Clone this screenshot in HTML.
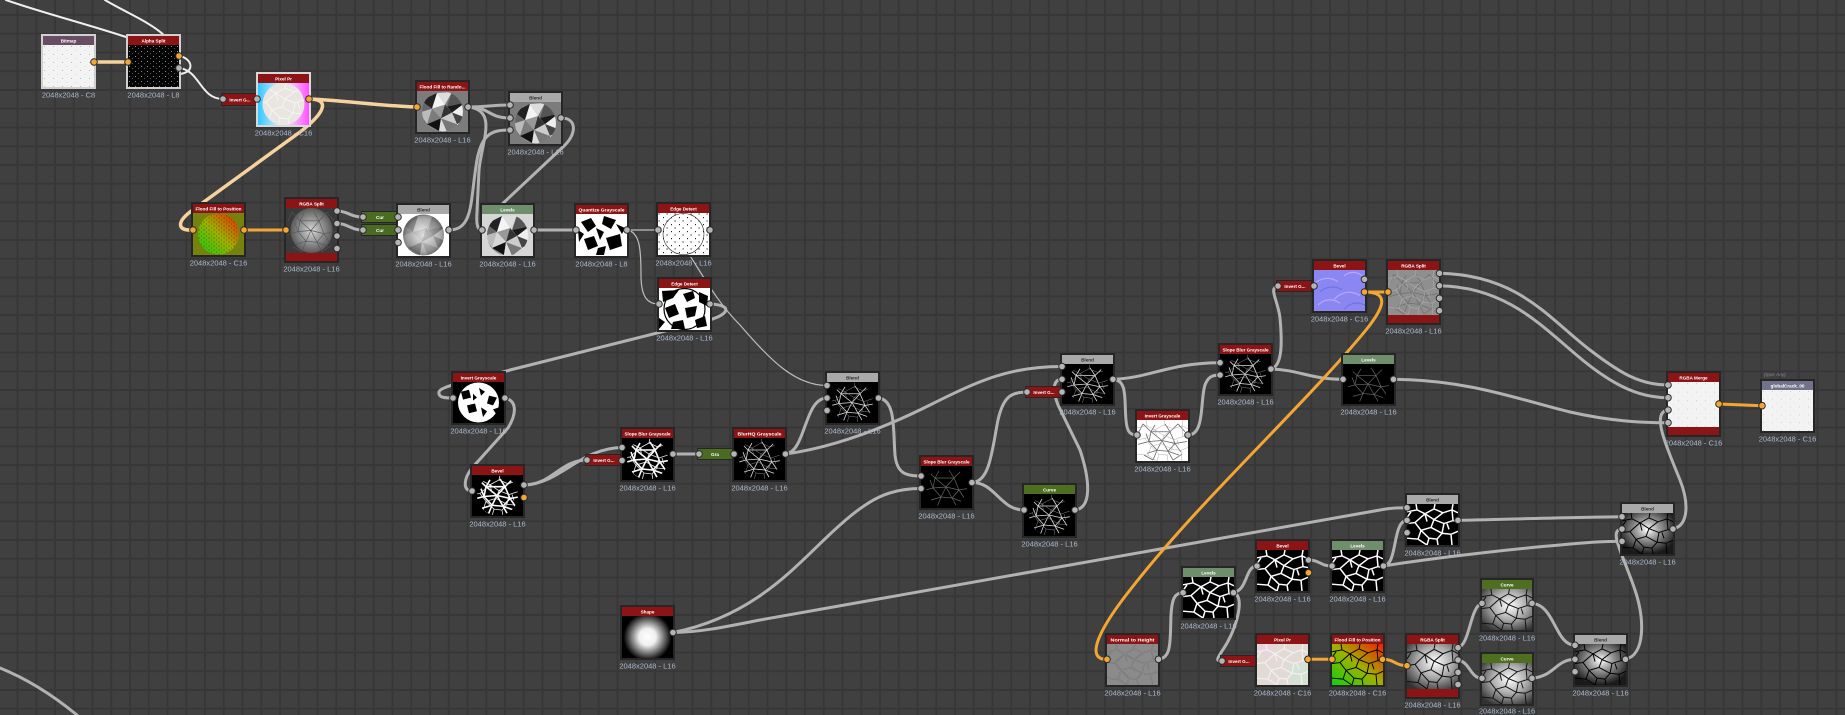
<!DOCTYPE html>
<html><head><meta charset="utf-8"><style>
html,body{margin:0;padding:0;background:#404040;}
body{width:1845px;height:715px;overflow:hidden;}
svg{display:block;}
.lbl{font-family:"Liberation Sans",sans-serif;font-size:7.5px;fill:#aab9cd;text-anchor:middle;}
.ht{font-family:"Liberation Sans",sans-serif;font-size:4.6px;font-weight:bold;fill:#fff;text-anchor:middle;}
.hd{fill:#2a2a2a;}
.w{fill:none;stroke:#b2b2b2;stroke-width:3;stroke-linecap:round;}
.o{fill:none;stroke:#f2a634;stroke-width:3;stroke-linecap:round;}
.p{fill:none;stroke:#f6d29e;stroke-width:3.5;stroke-linecap:round;}
.t{fill:none;stroke:#efefef;stroke-width:2;stroke-linecap:round;}
.tn{fill:none;stroke:#bdbdbd;stroke-width:1.2;}
.pg{fill:#b4b4b4;stroke:#2a2a2a;stroke-width:1;}
.po{fill:#f2a634;stroke:#2a2a2a;stroke-width:1;}
</style></head><body>
<svg width="1845" height="715" viewBox="0 0 1845 715" xmlns="http://www.w3.org/2000/svg">
<defs>
<pattern id="gridp" x="16.5" y="14" width="18.75" height="18.75" patternUnits="userSpaceOnUse"><rect width="18.75" height="18.75" fill="#404040"/><rect width="2" height="18.75" fill="#373737"/><rect width="18.75" height="2" fill="#373737"/></pattern>
<pattern id="speck" width="9" height="8" patternUnits="userSpaceOnUse"><rect x="1" y="1" width="0.9" height="0.9" fill="#aaa"/><rect x="5.5" y="5" width="0.7" height="0.7" fill="#bbb"/></pattern>
<pattern id="wspeck" width="6" height="5" patternUnits="userSpaceOnUse"><rect x="1" y="1" width="0.8" height="0.8" fill="#ddd"/><rect x="4" y="3" width="0.7" height="0.7" fill="#aaa"/></pattern>
<pattern id="bspeck" width="5" height="4" patternUnits="userSpaceOnUse"><rect x="0.5" y="0.5" width="1.2" height="1" fill="#111"/><rect x="3" y="2.5" width="1" height="1" fill="#222"/></pattern>
<pattern id="bspeck2" width="8" height="7" patternUnits="userSpaceOnUse"><rect x="0.5" y="0.5" width="1.2" height="1" fill="#111"/><rect x="5" y="4" width="1" height="1.2" fill="#222"/></pattern>
<clipPath id="cc"><circle cx="25.5" cy="21" r="20.5"/></clipPath>
<linearGradient id="gpx" x1="0" y1="0" x2="1" y2="0"><stop offset="0" stop-color="#30c8ff"/><stop offset=".5" stop-color="#f4f4ff"/><stop offset="1" stop-color="#ff50ff"/></linearGradient>
<linearGradient id="gff" x1="0" y1="1" x2="1" y2="0"><stop offset="0" stop-color="#10d010"/><stop offset=".5" stop-color="#a0b000"/><stop offset="1" stop-color="#f02000"/></linearGradient>
<radialGradient id="grgb"><stop offset="0" stop-color="#d8d8d8"/><stop offset="1" stop-color="#5a5a5a"/></radialGradient>
<radialGradient id="gblend"><stop offset="0" stop-color="#f8f8f8"/><stop offset=".8" stop-color="#9a9a9a"/><stop offset="1" stop-color="#6a6a6a"/></radialGradient>
<radialGradient id="gshape"><stop offset="0" stop-color="#fff"/><stop offset=".35" stop-color="#f0f0f0"/><stop offset="1" stop-color="#000"/></radialGradient>
<radialGradient id="ggc" cx=".55" cy=".4" r=".7"><stop offset="0" stop-color="#fff"/><stop offset=".5" stop-color="#aaa"/><stop offset="1" stop-color="#333"/></radialGradient>
<radialGradient id="gbc" cx=".5" cy=".4" r=".6"><stop offset="0" stop-color="#fff"/><stop offset=".4" stop-color="#999"/><stop offset="1" stop-color="#1a1a1a"/></radialGradient>
<path id="cp" d="M0,8 L10,6 L18,10 L27,5 L36,9 L45,6 L51,9 M10,6 L9,0 M27,5 L28,0 M45,6 L46,0 M0,20 L8,19 L18,10 M8,19 L14,27 L24,24 L27,16 L18,10 M27,16 L36,9 M27,16 L37,20 L46,17 L51,18 M46,17 L45,6 M37,20 L35,30 L24,24 M14,27 L11,36 L0,35 M11,36 L20,42 M14,27 L22,35 L30,36 L35,30 M30,36 L31,42 M35,30 L44,31 L51,28 M44,31 L45,42 M22,35 L20,42 M4,8 L0,14 M18,10 L20,18 M40,20 L42,26"/>
<path id="kp" d="M25,21 L14,12 L6,4 M25,21 L33,12 L41,4 M25,21 L38,24 L50,22 M25,21 L20,31 L16,41 M25,21 L31,32 L36,41 M25,21 L12,22 L1,25 M14,12 L18,5 M33,12 L28,4 M38,24 L44,33 M20,31 L10,34 M31,32 L42,36 M12,22 L9,14 M6,4 L2,12 M14,12 L12,22 L20,31 L31,32 L38,24 L33,12 Z M41,4 L48,12 M16,41 L7,36 M36,41 L45,35"/>
<g id="facets">
<path d="M4,10 L20,2 L15,18 Z" fill="#222"/><path d="M20,2 L35,1 L28,14 Z" fill="#ddd"/><path d="M35,1 L48,12 L30,16 Z" fill="#555"/><path d="M48,12 L50,28 L35,22 Z" fill="#eee"/><path d="M15,18 L28,14 L24,28 Z" fill="#999"/><path d="M28,14 L35,22 L24,28 Z" fill="#333"/><path d="M2,22 L15,18 L10,34 Z" fill="#bbb"/><path d="M10,34 L24,28 L22,41 Z" fill="#111"/><path d="M24,28 L40,34 L30,42 Z" fill="#777"/><path d="M35,22 L50,28 L40,34 Z" fill="#444"/><path d="M4,10 L15,18 L2,22 Z" fill="#666"/><path d="M24,28 L35,22 L40,34 Z" fill="#ccc"/><path d="M40,34 L50,28 L44,42 Z" fill="#fff"/><path d="M10,34 L22,41 L6,40 Z" fill="#888"/><path d="M15,18 L20,2 L28,14 Z" fill="#f4f4f4"/><path d="M30,16 L48,12 L35,22 Z" fill="#1a1a1a"/><path d="M28,14 L30,16 L35,22 Z" fill="#aaa"/><path d="M2,22 L10,34 L6,40 Z" fill="#444"/><path d="M22,41 L24,28 L30,42 Z" fill="#ddd"/>
</g>
<symbol id="s-bitmap" viewBox="0 0 51 42" preserveAspectRatio="none"><rect width="51" height="42" fill="#f3f3f3"/><rect width="51" height="42" fill="url(#speck)"/></symbol>
<symbol id="s-alpha" viewBox="0 0 51 42" preserveAspectRatio="none"><rect width="51" height="42" fill="#050505"/><rect width="51" height="42" fill="url(#wspeck)"/></symbol>
<symbol id="s-pixel" viewBox="0 0 51 42" preserveAspectRatio="none"><rect width="51" height="42" fill="url(#gpx)"/><circle cx="25.5" cy="21" r="21" fill="#e9e6e2"/><use href="#cp" fill="none" stroke="#fafafa" stroke-width=".7" clip-path="url(#cc)"/></symbol>
<symbol id="s-facet" viewBox="0 0 51 42" preserveAspectRatio="none"><rect width="51" height="42" fill="#7c7c7c"/><g clip-path="url(#cc)"><use href="#facets"/></g></symbol>
<symbol id="s-facetl" viewBox="0 0 51 42" preserveAspectRatio="none"><rect width="51" height="42" fill="#d6d6d6"/><g clip-path="url(#cc)"><use href="#facets"/></g></symbol>
<symbol id="s-ffpos" viewBox="0 0 51 42" preserveAspectRatio="none"><rect width="51" height="42" fill="#77820e"/><circle cx="25.5" cy="21" r="20.5" fill="url(#gff)"/><rect width="51" height="42" fill="url(#bspeck)" opacity=".5" clip-path="url(#cc)"/></symbol>
<symbol id="s-rgb1" viewBox="0 0 51 42" preserveAspectRatio="none"><rect width="51" height="42" fill="#3a3a3a"/><circle cx="25.5" cy="21" r="21" fill="url(#grgb)"/><use href="#kp" fill="none" stroke="#555" stroke-width=".6"/></symbol>
<symbol id="s-blendmid" viewBox="0 0 51 42" preserveAspectRatio="none"><rect width="51" height="42" fill="#fff"/><circle cx="25.5" cy="21" r="20.5" fill="url(#gblend)"/><g clip-path="url(#cc)" opacity=".25"><use href="#facets"/></g></symbol>
<symbol id="s-quant" viewBox="0 0 51 42" preserveAspectRatio="none"><rect width="51" height="42" fill="#fff"/><g fill="#000"><path d="M5,8 L15,4 L20,12 L12,18 Z"/><path d="M28,2 L40,6 L35,15 L26,10 Z"/><path d="M8,25 L18,22 L22,32 L12,36 Z"/><path d="M30,24 L44,20 L46,32 L34,36 Z"/><path d="M20,14 L28,18 L24,26 Z"/><path d="M40,10 L49,14 L46,20 Z"/><path d="M2,16 L8,20 L3,28 Z"/><path d="M22,34 L30,32 L28,41 L20,41 Z"/></g></symbol>
<symbol id="s-edge1" viewBox="0 0 51 42" preserveAspectRatio="none"><rect width="51" height="42" fill="#fff"/><rect width="51" height="42" fill="url(#bspeck2)"/><circle cx="25.5" cy="21" r="20.5" fill="none" stroke="#222" stroke-width=".6"/></symbol>
<symbol id="s-edge2" viewBox="0 0 51 42" preserveAspectRatio="none"><rect width="51" height="42" fill="#fff"/><g fill="#000"><path d="M3,3 L20,2 L14,10 L4,14 Z"/><path d="M24,6 L34,3 L36,10 L28,14 Z"/><path d="M40,4 L49,8 L48,18 L40,14 Z"/><path d="M6,20 L16,16 L20,26 L10,30 Z"/><path d="M26,20 L38,18 L36,28 L28,30 Z"/><path d="M14,34 L24,32 L26,41 L12,41 Z"/><path d="M36,32 L46,28 L48,38 L38,40 Z"/><path d="M0,30 L6,34 L0,41 Z"/></g><circle cx="25.5" cy="21" r="20.5" fill="none" stroke="#000" stroke-width="1.2"/></symbol>
<symbol id="s-invgray" viewBox="0 0 51 42" preserveAspectRatio="none"><rect width="51" height="42" fill="#000"/><circle cx="25.5" cy="21" r="20.5" fill="#fff"/><g fill="#000"><path d="M8,10 L16,8 L18,16 L10,18 Z"/><path d="M26,6 L32,10 L28,14 Z"/><path d="M36,14 L44,16 L40,24 L34,22 Z"/><path d="M14,24 L22,22 L24,30 L16,32 Z"/><path d="M28,26 L34,30 L30,36 Z"/><path d="M20,12 L24,16 L20,19 Z"/><path d="M40,28 L46,26 L44,34 Z"/></g></symbol>
<symbol id="s-crack" viewBox="0 0 51 42" preserveAspectRatio="none"><rect width="51" height="42" fill="#000"/><g clip-path="url(#cc)"><use href="#kp" fill="none" stroke="#fff" stroke-width="1.6"/><use href="#cp" fill="none" stroke="#eee" stroke-width=".8"/></g></symbol>
<symbol id="s-crackthin" viewBox="0 0 51 42" preserveAspectRatio="none"><rect width="51" height="42" fill="#000"/><g clip-path="url(#cc)"><use href="#kp" fill="none" stroke="#ddd" stroke-width=".8"/><use href="#cp" fill="none" stroke="#888" stroke-width=".5"/></g></symbol>
<symbol id="s-faint" viewBox="0 0 51 42" preserveAspectRatio="none"><rect width="51" height="42" fill="#000"/><use href="#kp" fill="none" stroke="#666" stroke-width=".7" clip-path="url(#cc)"/></symbol>
<symbol id="s-shape" viewBox="0 0 51 42" preserveAspectRatio="none"><rect width="51" height="42" fill="#000"/><circle cx="25.5" cy="21" r="24" fill="url(#gshape)"/></symbol>
<symbol id="s-invcrack" viewBox="0 0 51 42" preserveAspectRatio="none"><rect width="51" height="42" fill="#fff"/><use href="#kp" fill="none" stroke="#666" stroke-width=".8"/><use href="#cp" fill="none" stroke="#aaa" stroke-width=".5"/></symbol>
<symbol id="s-normal" viewBox="0 0 51 42" preserveAspectRatio="none"><rect width="51" height="42" fill="#8a86f2"/><g fill="none" stroke="#b8a6ff" stroke-width="1.2"><path d="M0,14 Q12,4 24,12"/><path d="M20,30 Q32,18 46,26"/><path d="M4,36 Q14,26 26,34"/><path d="M30,6 Q40,-2 51,8"/></g><g fill="none" stroke="#6a70e0" stroke-width="1"><path d="M6,22 Q16,14 28,20"/><path d="M30,40 Q40,30 51,36"/></g></symbol>
<symbol id="s-graytex" viewBox="0 0 51 42" preserveAspectRatio="none"><rect width="51" height="42" fill="#8f8f8f"/><use href="#kp" fill="none" stroke="#727272" stroke-width=".8"/><use href="#cp" fill="none" stroke="#ababab" stroke-width=".6"/></symbol>
<symbol id="s-merge" viewBox="0 0 51 42" preserveAspectRatio="none"><rect width="51" height="42" fill="#f3f3f3"/><rect width="51" height="42" fill="url(#speck)" opacity=".6"/></symbol>
<symbol id="s-cells" viewBox="0 0 51 42" preserveAspectRatio="none"><rect width="51" height="42" fill="#000"/><use href="#cp" fill="none" stroke="#fff" stroke-width="1.5"/></symbol>
<symbol id="s-nth" viewBox="0 0 51 42" preserveAspectRatio="none"><rect width="51" height="42" fill="#8b8b8b"/><use href="#cp" fill="none" stroke="#666" stroke-width="1.2"/><use href="#cp" fill="none" stroke="#b0b0b0" stroke-width=".4"/></symbol>
<symbol id="s-pastel" viewBox="0 0 51 42" preserveAspectRatio="none"><rect width="51" height="42" fill="#e2dad4"/><path d="M0,0 L20,0 L10,18 Z" fill="#e8d4dc"/><path d="M30,22 L51,20 L51,42 L36,42 Z" fill="#d4e2d4"/><use href="#cp" fill="none" stroke="#f4f0f0" stroke-width="1.2"/></symbol>
<symbol id="s-ffcells" viewBox="0 0 51 42" preserveAspectRatio="none"><rect width="51" height="42" fill="url(#gff)"/><use href="#cp" fill="none" stroke="#000" stroke-width="1"/></symbol>
<symbol id="s-graycells" viewBox="0 0 51 42" preserveAspectRatio="none"><rect width="51" height="42" fill="url(#ggc)"/><use href="#cp" fill="none" stroke="#111" stroke-width="1"/></symbol>
<symbol id="s-blendcells" viewBox="0 0 51 42" preserveAspectRatio="none"><rect width="51" height="42" fill="url(#gbc)"/><use href="#cp" fill="none" stroke="#000" stroke-width="1"/></symbol>
</defs>

<rect width="1845" height="715" fill="url(#gridp)"/>

<!-- wires -->
<path class="t" d="M6,0 C40,12 90,25 126,37"/>
<path class="t" d="M105,0 C125,12 150,22 165,36"/>
<path class="t" d="M179,56 C192,58 196,72 180,74"/>
<path class="t" d="M179,68 C200,70 200,99 223,99"/>
<path class="p" d="M94,62 L128,62"/>
<path class="p" d="M309,99 C340,100 380,106 417,107"/>
<path class="p" d="M309,99 C330,99 326,112 300,132 L190,212 C176,223 178,231 193,230"/>
<path class="o" d="M244,230 L286,230"/>
<path class="w" d="M337,211 C348,211 350,217 363,217"/>
<path class="w" d="M337,223.5 C348,223.5 350,230 363,230"/>
<path class="w" d="M468,107 C488,107 490,105 510,105"/>
<path class="w" d="M468,107 C490,107 488,118 510,118"/>
<path class="w" d="M468,107 C498,110 482,140 479,170 L477,212 C476,226 478,230 482,230"/>
<path class="w" d="M449,230 C474,230 470,200 477,160 C482,132 494,130 510,130"/>
<path class="w" d="M561,118 C578,118 576,135 564,146 L498,208 C488,218 484,226 482,230"/>
<path class="w" d="M534,230 L576,230"/>
<path class="tn" d="M627,230 L658,230"/>
<path class="tn" d="M627,230 C640,232 641,250 641,275 C641,298 648,304 659,304"/>
<path class="tn" d="M683,245 C700,270 715,300 740,325 C770,360 795,385.5 827,385.5"/>
<path class="w" d="M710,304 C735,305 728,316 705,321 L510,370 C470,381 440,386 439,392 C438,398 446,398 453,398"/>
<path class="w" d="M505,398 C518,401 516,415 508,428 L472,468 C464,478 462,491 472,491"/>
<path class="w" d="M524,485 C552,485 560,460 587,460"/>
<path class="w" d="M524,485 C560,484 580,448 622,447.5"/>
<path class="w" d="M673,454 L734,454"/>
<path class="w" d="M785.5,454 C806,452 804,398 827,398"/>
<path class="w" d="M785.5,454 C830,448 880,430 930,405 C980,380 1010,366.5 1062,366.5"/>
<path class="w" d="M878.5,398 C896,400 893,430 895,455 C897,473 905,476 921,476"/>
<path class="w" d="M673,632.5 C760,615 800,560 840,525 C870,498 890,488.5 921,488.5"/>
<path class="w" d="M673,632.5 C700,632 720,628 760,620 L1380,510 C1390,508 1398,507.7 1407,507.7"/>
<path class="w" d="M972,482.5 C995,482 1000,510 1024,510"/>
<path class="w" d="M972,482.5 C990,482 992,450 998,420 C1003,398 1010,392 1027,392"/>
<path class="w" d="M1075,510 C1092,508 1090,480 1080,450 L1058,405 C1053,392 1052,379.3 1062,379.3"/>
<path class="w" d="M1113,379.3 C1128,380 1124,400 1126,420 C1127,432 1130,435 1137,435"/>
<path class="w" d="M1113,379.3 C1150,378 1170,362.7 1220,362.7"/>
<path class="w" d="M1188,435 C1205,435 1200,400 1205,385 C1208,377 1212,375 1220,375"/>
<path class="w" d="M1271,369 C1300,370 1310,379.3 1343,379.3"/>
<path class="w" d="M1271,369 C1283,366 1282,340 1280,318 C1278,300 1268,288 1278,286"/>
<path class="w" d="M1393.5,379.3 C1470,380 1520,400 1570,412 C1610,421 1640,422.7 1668,422.7"/>
<path class="w" d="M1439.5,273.3 C1520,275 1550,320 1590,350 C1620,373 1640,385 1668,385"/>
<path class="w" d="M1439.5,285.7 C1510,287 1545,330 1585,362 C1615,386 1640,397.7 1668,397.7"/>
<path class="w" d="M1458,520.3 C1520,519 1580,517 1622,516.7"/>
<path class="w" d="M1383.5,566 C1420,560 1500,550 1560,545 C1590,542 1605,541.3 1622,541.3"/>
<path class="w" d="M1383.5,566 C1398,565 1392,521 1407,520.3"/>
<path class="w" d="M1308.5,560 C1320,560 1320,566 1332,566"/>
<path class="w" d="M1233.5,592.7 C1248,590 1245,566 1257,566"/>
<path class="w" d="M1233.5,592.7 C1246,596 1236,630 1224,648 C1216,660 1216,661 1222,661"/>
<path class="w" d="M1158.5,659.3 C1172,658 1170,640 1171,615 C1172,598 1175,592.7 1183,592.7"/>
<path class="w" d="M1458,647.7 C1470,645 1470,606 1482,603.3"/>
<path class="w" d="M1458,660 C1470,662 1470,678 1482,678.3"/>
<path class="w" d="M1532,603.3 C1555,605 1555,645 1575,645.3"/>
<path class="w" d="M1532,678.3 C1555,676 1555,660 1575,659.3"/>
<path class="w" d="M1625.5,659.3 C1645,655 1645,620 1635,590 C1622,552 1608,530 1622,529"/>
<path class="w" d="M1673,529 C1690,525 1688,500 1680,480 C1668,450 1650,412 1668,410"/>
<path class="w" d="M0,668 C30,680 55,697 77,715"/>
<path class="o" d="M1364.5,292 L1388,292"/>
<path class="o" d="M1364.5,292 C1392,292 1382,310 1366,330 C1300,410 1200,500 1130,590 C1096,633 1086,660 1107,659.3"/>
<path class="o" d="M1308,659.3 L1332,659.3"/>
<path class="o" d="M1382.5,659.3 C1395,659.3 1395,665.7 1407,665.7"/>
<path class="o" d="M1719,404 L1762,405.7"/>

<!-- nodes -->
<rect x="41" y="34" width="55" height="55" fill="#d0d0d0"/><rect x="43" y="36" width="51" height="9" fill="#6a4d63"/><text x="68.5" y="42.7" class="ht">Bitmap</text><use href="#s-bitmap" x="43" y="45" width="51" height="42"/>
<text x="68.5" y="97.5" class="lbl">2048x2048 - C8</text>
<rect x="126" y="34" width="55" height="55" fill="#d0d0d0"/><rect x="128" y="36" width="51" height="9" fill="#8c1414"/><text x="153.5" y="42.7" class="ht">Alpha Split</text><use href="#s-alpha" x="128" y="45" width="51" height="42"/>
<text x="153.5" y="97.5" class="lbl">2048x2048 - L8</text>
<rect x="221" y="93" width="36" height="13" fill="#262626"/><rect x="222" y="94" width="34" height="11" fill="#8c1414"/><text x="240" y="101.3" class="ht">Invert G...</text>
<rect x="256" y="72" width="55" height="55" fill="#d8d8d8"/><rect x="258" y="74" width="51" height="9" fill="#8c1414"/><text x="283.5" y="80.7" class="ht">Pixel Pr</text><use href="#s-pixel" x="258" y="83" width="51" height="42"/>
<text x="283.5" y="135.5" class="lbl">2048x2048 - C16</text>
<rect x="415" y="80" width="55" height="54" fill="#262626"/><rect x="417" y="82" width="51" height="9" fill="#8c1414"/><text x="442.5" y="88.7" class="ht" textLength="46" lengthAdjust="spacingAndGlyphs">Flood Fill to Rando...</text><use href="#s-facet" x="417" y="91" width="51" height="41"/>
<text x="442.5" y="142.5" class="lbl">2048x2048 - L16</text>
<rect x="508" y="91" width="55" height="55" fill="#262626"/><rect x="510" y="93" width="51" height="9" fill="#a9a9a9"/><text x="535.5" y="99.7" class="ht hd">Blend</text><use href="#s-facet" x="510" y="102" width="51" height="42"/>
<text x="535.5" y="154.5" class="lbl">2048x2048 - L16</text>
<rect x="191" y="202" width="55" height="55" fill="#262626"/><rect x="193" y="204" width="51" height="9" fill="#8c1414"/><text x="218.5" y="210.7" class="ht" textLength="46" lengthAdjust="spacingAndGlyphs">Flood Fill to Position</text><use href="#s-ffpos" x="193" y="213" width="51" height="42"/>
<text x="218.5" y="265.5" class="lbl">2048x2048 - C16</text>
<rect x="284" y="197" width="55" height="66" fill="#262626"/><rect x="286" y="199" width="51" height="9" fill="#8c1414"/><text x="311.5" y="205.7" class="ht">RGBA Split</text><use href="#s-rgb1" x="286" y="208" width="51" height="45"/><rect x="286" y="253" width="51" height="8" fill="#8c1414"/>
<text x="311.5" y="271.5" class="lbl">2048x2048 - L16</text>
<rect x="361" y="211" width="36" height="12" fill="#262626"/><rect x="362" y="212" width="34" height="10" fill="#4a6b22"/><text x="380" y="218.8" class="ht">Cur</text>
<rect x="361" y="224" width="36" height="12" fill="#262626"/><rect x="362" y="225" width="34" height="10" fill="#4a6b22"/><text x="380" y="231.8" class="ht">Cur</text>
<rect x="396" y="203" width="55" height="55" fill="#262626"/><rect x="398" y="205" width="51" height="9" fill="#a9a9a9"/><text x="423.5" y="211.7" class="ht hd">Blend</text><use href="#s-blendmid" x="398" y="214" width="51" height="42"/>
<text x="423.5" y="266.5" class="lbl">2048x2048 - L16</text>
<rect x="480" y="203" width="55" height="55" fill="#262626"/><rect x="482" y="205" width="51" height="9" fill="#6f8e6b"/><text x="507.5" y="211.7" class="ht">Levels</text><use href="#s-facetl" x="482" y="214" width="51" height="42"/>
<text x="507.5" y="266.5" class="lbl">2048x2048 - L16</text>
<rect x="574" y="203" width="55" height="55" fill="#262626"/><rect x="576" y="205" width="51" height="9" fill="#8c1414"/><text x="601.5" y="211.7" class="ht" textLength="46" lengthAdjust="spacingAndGlyphs">Quantize Grayscale</text><use href="#s-quant" x="576" y="214" width="51" height="42"/>
<text x="601.5" y="266.5" class="lbl">2048x2048 - L8</text>
<rect x="656" y="202" width="55" height="55" fill="#262626"/><rect x="658" y="204" width="51" height="9" fill="#8c1414"/><text x="683.5" y="210.7" class="ht">Edge Detect</text><use href="#s-edge1" x="658" y="213" width="51" height="42"/>
<text x="683.5" y="265.5" class="lbl">2048x2048 - L16</text>
<rect x="657" y="277" width="55" height="55" fill="#262626"/><rect x="659" y="279" width="51" height="9" fill="#8c1414"/><text x="684.5" y="285.7" class="ht">Edge Detect</text><use href="#s-edge2" x="659" y="288" width="51" height="42"/>
<text x="684.5" y="340.5" class="lbl">2048x2048 - L16</text>
<rect x="451" y="371" width="55" height="54" fill="#262626"/><rect x="453" y="373" width="51" height="9" fill="#8c1414"/><text x="478.5" y="379.7" class="ht">Invert Grayscale</text><use href="#s-invgray" x="453" y="382" width="51" height="41"/>
<text x="478.5" y="433.5" class="lbl">2048x2048 - L16</text>
<rect x="470" y="464" width="55" height="54" fill="#262626"/><rect x="472" y="466" width="51" height="9" fill="#8c1414"/><text x="497.5" y="472.7" class="ht">Bevel</text><use href="#s-crack" x="472" y="475" width="51" height="41"/>
<text x="497.5" y="526.5" class="lbl">2048x2048 - L16</text>
<rect x="585" y="454" width="36" height="12" fill="#262626"/><rect x="586" y="455" width="34" height="10" fill="#8c1414"/><text x="604" y="461.8" class="ht">Invert G...</text>
<rect x="620" y="427" width="55" height="55" fill="#262626"/><rect x="622" y="429" width="51" height="9" fill="#8c1414"/><text x="647.5" y="435.7" class="ht" textLength="46" lengthAdjust="spacingAndGlyphs">Slope Blur Grayscale</text><use href="#s-crack" x="622" y="438" width="51" height="42"/>
<text x="647.5" y="490.5" class="lbl">2048x2048 - L16</text>
<rect x="697" y="448" width="36" height="12" fill="#262626"/><rect x="698" y="449" width="34" height="10" fill="#4a6b22"/><text x="715" y="455.8" class="ht">Gra</text>
<rect x="732" y="427" width="55" height="55" fill="#262626"/><rect x="734" y="429" width="51" height="9" fill="#8c1414"/><text x="759.5" y="435.7" class="ht" textLength="44" lengthAdjust="spacingAndGlyphs">BlurHQ Grayscale</text><use href="#s-crackthin" x="734" y="438" width="51" height="42"/>
<text x="759.5" y="490.5" class="lbl">2048x2048 - L16</text>
<rect x="825" y="371" width="55" height="54" fill="#262626"/><rect x="827" y="373" width="51" height="9" fill="#a9a9a9"/><text x="852.5" y="379.7" class="ht hd">Blend</text><use href="#s-crackthin" x="827" y="382" width="51" height="41"/>
<text x="852.5" y="433.5" class="lbl">2048x2048 - L16</text>
<rect x="919" y="455" width="55" height="55" fill="#262626"/><rect x="921" y="457" width="51" height="9" fill="#8c1414"/><text x="946.5" y="463.7" class="ht" textLength="46" lengthAdjust="spacingAndGlyphs">Slope Blur Grayscale</text><use href="#s-faint" x="921" y="466" width="51" height="42"/>
<text x="946.5" y="518.5" class="lbl">2048x2048 - L16</text>
<rect x="1022" y="483" width="55" height="55" fill="#262626"/><rect x="1024" y="485" width="51" height="9" fill="#4f6f20"/><text x="1049.5" y="491.7" class="ht">Curve</text><use href="#s-crackthin" x="1024" y="494" width="51" height="42"/>
<text x="1049.5" y="546.5" class="lbl">2048x2048 - L16</text>
<rect x="620" y="605" width="55" height="55" fill="#262626"/><rect x="622" y="607" width="51" height="9" fill="#8c1414"/><text x="647.5" y="613.7" class="ht">Shape</text><use href="#s-shape" x="622" y="616" width="51" height="42"/>
<text x="647.5" y="668.5" class="lbl">2048x2048 - L16</text>
<rect x="1060" y="353" width="55" height="53" fill="#262626"/><rect x="1062" y="355" width="51" height="9" fill="#a9a9a9"/><text x="1087.5" y="361.7" class="ht hd">Blend</text><use href="#s-crackthin" x="1062" y="364" width="51" height="40"/>
<text x="1087.5" y="414.5" class="lbl">2048x2048 - L16</text>
<rect x="1025" y="386" width="36" height="12" fill="#262626"/><rect x="1026" y="387" width="34" height="10" fill="#8c1414"/><text x="1044" y="393.8" class="ht">Invert G...</text>
<rect x="1135" y="409" width="55" height="54" fill="#262626"/><rect x="1137" y="411" width="51" height="9" fill="#8c1414"/><text x="1162.5" y="417.7" class="ht">Invert Grayscale</text><use href="#s-invcrack" x="1137" y="420" width="51" height="41"/>
<text x="1162.5" y="471.5" class="lbl">2048x2048 - L16</text>
<rect x="1218" y="343" width="55" height="53" fill="#262626"/><rect x="1220" y="345" width="51" height="9" fill="#8c1414"/><text x="1245.5" y="351.7" class="ht" textLength="46" lengthAdjust="spacingAndGlyphs">Slope Blur Grayscale</text><use href="#s-crackthin" x="1220" y="354" width="51" height="40"/>
<text x="1245.5" y="404.5" class="lbl">2048x2048 - L16</text>
<rect x="1341" y="353" width="55" height="53" fill="#262626"/><rect x="1343" y="355" width="51" height="9" fill="#6f8e6b"/><text x="1368.5" y="361.7" class="ht">Levels</text><use href="#s-faint" x="1343" y="364" width="51" height="40"/>
<text x="1368.5" y="414.5" class="lbl">2048x2048 - L16</text>
<rect x="1405" y="493" width="55" height="54" fill="#262626"/><rect x="1407" y="495" width="51" height="9" fill="#a9a9a9"/><text x="1432.5" y="501.7" class="ht hd">Blend</text><use href="#s-cells" x="1407" y="504" width="51" height="41"/>
<text x="1432.5" y="555.5" class="lbl">2048x2048 - L16</text>
<rect x="1255" y="539" width="55" height="54" fill="#262626"/><rect x="1257" y="541" width="51" height="9" fill="#8c1414"/><text x="1282.5" y="547.7" class="ht">Bevel</text><use href="#s-cells" x="1257" y="550" width="51" height="41"/>
<text x="1282.5" y="601.5" class="lbl">2048x2048 - L16</text>
<rect x="1330" y="539" width="55" height="54" fill="#262626"/><rect x="1332" y="541" width="51" height="9" fill="#6f8e6b"/><text x="1357.5" y="547.7" class="ht">Levels</text><use href="#s-cells" x="1332" y="550" width="51" height="41"/>
<text x="1357.5" y="601.5" class="lbl">2048x2048 - L16</text>
<rect x="1181" y="566" width="55" height="54" fill="#262626"/><rect x="1183" y="568" width="51" height="9" fill="#6f8e6b"/><text x="1208.5" y="574.7" class="ht">Levels</text><use href="#s-cells" x="1183" y="577" width="51" height="41"/>
<text x="1208.5" y="628.5" class="lbl">2048x2048 - L16</text>
<rect x="1105" y="633" width="55" height="54" fill="#262626"/><rect x="1107" y="635" width="51" height="9" fill="#8c1414"/><text x="1132.5" y="641.7" class="ht" textLength="44" lengthAdjust="spacingAndGlyphs">Normal to Height</text><use href="#s-nth" x="1107" y="644" width="51" height="41"/>
<text x="1132.5" y="695.5" class="lbl">2048x2048 - L16</text>
<rect x="1220" y="655" width="36" height="12" fill="#262626"/><rect x="1221" y="656" width="34" height="10" fill="#8c1414"/><text x="1239" y="662.8" class="ht">Invert G...</text>
<rect x="1255" y="633" width="55" height="54" fill="#262626"/><rect x="1257" y="635" width="51" height="9" fill="#8c1414"/><text x="1282.5" y="641.7" class="ht">Pixel Pr</text><use href="#s-pastel" x="1257" y="644" width="51" height="41"/>
<text x="1282.5" y="695.5" class="lbl">2048x2048 - C16</text>
<rect x="1330" y="633" width="55" height="54" fill="#262626"/><rect x="1332" y="635" width="51" height="9" fill="#8c1414"/><text x="1357.5" y="641.7" class="ht" textLength="46" lengthAdjust="spacingAndGlyphs">Flood Fill to Position</text><use href="#s-ffcells" x="1332" y="644" width="51" height="41"/>
<text x="1357.5" y="695.5" class="lbl">2048x2048 - C16</text>
<rect x="1405" y="633" width="55" height="66" fill="#262626"/><rect x="1407" y="635" width="51" height="9" fill="#8c1414"/><text x="1432.5" y="641.7" class="ht">RGBA Split</text><use href="#s-graycells" x="1407" y="644" width="51" height="45"/><rect x="1407" y="689" width="51" height="8" fill="#8c1414"/>
<text x="1432.5" y="707.5" class="lbl">2048x2048 - L16</text>
<rect x="1480" y="578" width="54" height="54" fill="#262626"/><rect x="1482" y="580" width="50" height="9" fill="#4f6f20"/><text x="1507" y="586.7" class="ht">Curve</text><use href="#s-graycells" x="1482" y="589" width="50" height="41"/>
<text x="1507" y="640.5" class="lbl">2048x2048 - L16</text>
<rect x="1480" y="652" width="54" height="54" fill="#262626"/><rect x="1482" y="654" width="50" height="9" fill="#4f6f20"/><text x="1507" y="660.7" class="ht">Curve</text><use href="#s-graycells" x="1482" y="663" width="50" height="41"/>
<text x="1507" y="713.5" class="lbl">2048x2048 - L16</text>
<rect x="1573" y="633" width="55" height="54" fill="#262626"/><rect x="1575" y="635" width="51" height="9" fill="#a9a9a9"/><text x="1600.5" y="641.7" class="ht hd">Blend</text><use href="#s-blendcells" x="1575" y="644" width="51" height="41"/>
<text x="1600.5" y="695.5" class="lbl">2048x2048 - L16</text>
<rect x="1620" y="502" width="55" height="54" fill="#262626"/><rect x="1622" y="504" width="51" height="9" fill="#a9a9a9"/><text x="1647.5" y="510.7" class="ht hd">Blend</text><use href="#s-blendcells" x="1622" y="513" width="51" height="41"/>
<text x="1647.5" y="564.5" class="lbl">2048x2048 - L16</text>
<rect x="1276" y="280" width="36" height="12" fill="#262626"/><rect x="1277" y="281" width="34" height="10" fill="#8c1414"/><text x="1295" y="287.8" class="ht">Invert G...</text>
<rect x="1312" y="259" width="55" height="54" fill="#262626"/><rect x="1314" y="261" width="51" height="9" fill="#8c1414"/><text x="1339.5" y="267.7" class="ht">Bevel</text><use href="#s-normal" x="1314" y="270" width="51" height="41"/>
<text x="1339.5" y="321.5" class="lbl">2048x2048 - C16</text>
<rect x="1386" y="259" width="55" height="66" fill="#262626"/><rect x="1388" y="261" width="51" height="9" fill="#8c1414"/><text x="1413.5" y="267.7" class="ht">RGBA Split</text><use href="#s-graytex" x="1388" y="270" width="51" height="45"/><rect x="1388" y="315" width="51" height="8" fill="#8c1414"/>
<text x="1413.5" y="333.5" class="lbl">2048x2048 - L16</text>
<rect x="1666" y="371" width="55" height="66" fill="#262626"/><rect x="1668" y="373" width="51" height="9" fill="#8c1414"/><text x="1693.5" y="379.7" class="ht">RGBA Merge</text><use href="#s-merge" x="1668" y="382" width="51" height="45"/><rect x="1668" y="427" width="51" height="8" fill="#8c1414"/>
<text x="1693.5" y="445.5" class="lbl">2048x2048 - C16</text>
<text x="1764" y="376" font-family="Liberation Sans, sans-serif" font-size="4.5" font-style="italic" fill="#8a8a8a">(type: Any)</text>
<rect x="1760" y="379" width="55" height="54" fill="#262626"/><rect x="1762" y="381" width="51" height="9" fill="#72728a"/><text x="1787.5" y="387.7" class="ht">globalCrack_00</text><use href="#s-merge" x="1762" y="390" width="51" height="41"/>
<text x="1787.5" y="441.5" class="lbl">2048x2048 - C16</text>

<!-- ports -->
<g class="pg">
<circle cx="179" cy="68" r="3.3"/><circle cx="223" cy="99" r="3.3"/><circle cx="257" cy="99" r="3.3"/>
<circle cx="468" cy="107" r="3.3"/>
<circle cx="510" cy="105" r="3.3"/><circle cx="510" cy="118" r="3.3"/><circle cx="510" cy="130" r="3.3"/><circle cx="561" cy="118" r="3.3"/>
<circle cx="337" cy="211" r="3.3"/><circle cx="337" cy="223.5" r="3.3"/><circle cx="337" cy="236" r="3.3"/><circle cx="337" cy="248.5" r="3.3"/>
<circle cx="363" cy="217" r="3.3"/><circle cx="363" cy="230" r="3.3"/>
<circle cx="398" cy="217" r="3.3"/><circle cx="398" cy="230" r="3.3"/><circle cx="398" cy="242.5" r="3.3"/><circle cx="449" cy="230" r="3.3"/>
<circle cx="482" cy="230" r="3.3"/><circle cx="534" cy="230" r="3.3"/>
<circle cx="576" cy="230" r="3.3"/><circle cx="627" cy="230" r="3.3"/>
<circle cx="658" cy="230" r="3.3"/><circle cx="710" cy="230" r="3.3"/>
<circle cx="659" cy="304" r="3.3"/><circle cx="710" cy="304" r="3.3"/>
<circle cx="453" cy="398" r="3.3"/><circle cx="505" cy="398" r="3.3"/>
<circle cx="472" cy="491" r="3.3"/><circle cx="524" cy="485" r="3.3"/>
<circle cx="587" cy="460" r="3.3"/>
<circle cx="622" cy="447.5" r="3.3"/><circle cx="622" cy="460.5" r="3.3"/><circle cx="673" cy="454" r="3.3"/>
<circle cx="699" cy="454" r="3.3"/>
<circle cx="734" cy="454" r="3.3"/><circle cx="785.5" cy="454" r="3.3"/>
<circle cx="827" cy="385.5" r="3.3"/><circle cx="827" cy="398" r="3.3"/><circle cx="827" cy="410.5" r="3.3"/><circle cx="878.5" cy="398" r="3.3"/>
<circle cx="921" cy="476" r="3.3"/><circle cx="921" cy="488.5" r="3.3"/><circle cx="972" cy="482.5" r="3.3"/>
<circle cx="1024" cy="510" r="3.3"/><circle cx="1075" cy="510" r="3.3"/>
<circle cx="673" cy="632.5" r="3.3"/>
<circle cx="1062" cy="366.5" r="3.3"/><circle cx="1062" cy="379.3" r="3.3"/><circle cx="1062" cy="392" r="3.3"/><circle cx="1113" cy="379.3" r="3.3"/>
<circle cx="1027" cy="392" r="3.3"/>
<circle cx="1137" cy="435" r="3.3"/><circle cx="1188" cy="435" r="3.3"/>
<circle cx="1220" cy="362.7" r="3.3"/><circle cx="1220" cy="375" r="3.3"/><circle cx="1271" cy="369" r="3.3"/>
<circle cx="1343" cy="379.3" r="3.3"/><circle cx="1393.5" cy="379.3" r="3.3"/>
<circle cx="1407" cy="507.7" r="3.3"/><circle cx="1407" cy="520.3" r="3.3"/><circle cx="1407" cy="532.7" r="3.3"/><circle cx="1458" cy="520.3" r="3.3"/>
<circle cx="1257" cy="566" r="3.3"/><circle cx="1308.5" cy="560" r="3.3"/>
<circle cx="1332" cy="566" r="3.3"/><circle cx="1383.5" cy="566" r="3.3"/>
<circle cx="1183" cy="592.7" r="3.3"/><circle cx="1233.5" cy="592.7" r="3.3"/>
<circle cx="1158.5" cy="659.3" r="3.3"/>
<circle cx="1222" cy="661" r="3.3"/>
<circle cx="1458" cy="647.7" r="3.3"/><circle cx="1458" cy="660" r="3.3"/><circle cx="1458" cy="672.3" r="3.3"/><circle cx="1458" cy="684.5" r="3.3"/>
<circle cx="1482" cy="603.3" r="3.3"/><circle cx="1532" cy="603.3" r="3.3"/>
<circle cx="1482" cy="678.3" r="3.3"/><circle cx="1532" cy="678.3" r="3.3"/>
<circle cx="1575" cy="645.3" r="3.3"/><circle cx="1575" cy="659.3" r="3.3"/><circle cx="1575" cy="671.7" r="3.3"/><circle cx="1625.5" cy="659.3" r="3.3"/>
<circle cx="1622" cy="516.7" r="3.3"/><circle cx="1622" cy="529" r="3.3"/><circle cx="1622" cy="541.3" r="3.3"/><circle cx="1673" cy="529" r="3.3"/>
<circle cx="1278" cy="286" r="3.3"/>
<circle cx="1314" cy="286" r="3.3"/><circle cx="1364.5" cy="279.3" r="3.3"/>
<circle cx="1439.5" cy="273.3" r="3.3"/><circle cx="1439.5" cy="285.7" r="3.3"/><circle cx="1439.5" cy="298.3" r="3.3"/><circle cx="1439.5" cy="310.7" r="3.3"/>
<circle cx="1668" cy="385" r="3.3"/><circle cx="1668" cy="397.7" r="3.3"/><circle cx="1668" cy="410" r="3.3"/><circle cx="1668" cy="422.7" r="3.3"/>
</g>
<g class="po">
<circle cx="94" cy="62" r="3.3"/><circle cx="128" cy="62" r="3.3"/><circle cx="179" cy="56" r="3.3"/>
<circle cx="309" cy="99" r="3.3"/><circle cx="417" cy="107" r="3.3"/>
<circle cx="193" cy="230" r="3.3"/><circle cx="244" cy="230" r="3.3"/><circle cx="286" cy="230" r="3.3"/>
<circle cx="524" cy="497.5" r="3.3"/><circle cx="1308.5" cy="572.7" r="3.3"/>
<circle cx="1107" cy="659.3" r="3.3"/><circle cx="1308" cy="659.3" r="3.3"/>
<circle cx="1332" cy="659.3" r="3.3"/><circle cx="1382.5" cy="659.3" r="3.3"/><circle cx="1407" cy="665.7" r="3.3"/>
<circle cx="1364.5" cy="292" r="3.3"/><circle cx="1388" cy="292" r="3.3"/>
<circle cx="1719" cy="404" r="3.3"/><circle cx="1762" cy="405.7" r="3.3"/>
</g>
</svg>
</body></html>
